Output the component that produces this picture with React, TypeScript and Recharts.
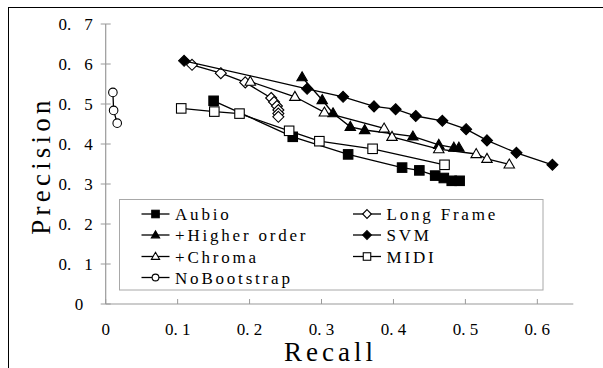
import React from 'react';
import { ScatterChart, Scatter, XAxis, YAxis, Legend, Label } from 'recharts';

// ---- data ----
const aubioRecall = [0.150, 0.260, 0.337, 0.412, 0.436, 0.458, 0.470, 0.481, 0.492];
const aubioPrecision = [0.508, 0.418, 0.374, 0.341, 0.334, 0.321, 0.315, 0.308, 0.308];

const longFrameRecall = [0.120, 0.160, 0.194, 0.230, 0.234, 0.238, 0.240, 0.240, 0.240];
const longFramePrecision = [0.598, 0.577, 0.554, 0.515, 0.505, 0.495, 0.485, 0.476, 0.468];

const higherRecall = [0.273, 0.301, 0.316, 0.340, 0.360, 0.427, 0.463, 0.484, 0.491];
const higherPrecision = [0.567, 0.510, 0.477, 0.443, 0.435, 0.419, 0.398, 0.391, 0.391];

const svmRecall = [0.109, 0.280, 0.330, 0.373, 0.403, 0.431, 0.468, 0.501, 0.530, 0.571, 0.621];
const svmPrecision = [0.608, 0.538, 0.518, 0.494, 0.487, 0.470, 0.458, 0.437, 0.409, 0.378, 0.348];

const chromaRecall = [0.201, 0.263, 0.304, 0.387, 0.398, 0.463, 0.515, 0.530, 0.561];
const chromaPrecision = [0.556, 0.518, 0.479, 0.439, 0.418, 0.387, 0.375, 0.363, 0.349];

const midiRecall = [0.105, 0.151, 0.186, 0.255, 0.297, 0.371, 0.471];
const midiPrecision = [0.489, 0.481, 0.476, 0.433, 0.407, 0.388, 0.348];

const noBootRecall = [0.010, 0.011, 0.016];
const noBootPrecision = [0.529, 0.484, 0.452];

const xTicks = [0, 0.1, 0.2, 0.3, 0.4, 0.5, 0.6];
const yTicks = [0, 0.1, 0.2, 0.3, 0.4, 0.5, 0.6, 0.7];

const zip = (xs: number[], ys: number[]) => xs.map((x, i) => ({ x, y: ys[i] }));

type Kind = 'square' | 'diamond' | 'triangle' | 'circle';
interface SeriesDef { name: string; data: { x: number; y: number }[]; kind: Kind; filled: boolean; }

const series: SeriesDef[] = [
  { name: 'Aubio', data: zip(aubioRecall, aubioPrecision), kind: 'square', filled: true },
  { name: 'Long Frame', data: zip(longFrameRecall, longFramePrecision), kind: 'diamond', filled: false },
  { name: '+Higher order', data: zip(higherRecall, higherPrecision), kind: 'triangle', filled: true },
  { name: 'SVM', data: zip(svmRecall, svmPrecision), kind: 'diamond', filled: true },
  { name: '+Chroma', data: zip(chromaRecall, chromaPrecision), kind: 'triangle', filled: false },
  { name: 'MIDI', data: zip(midiRecall, midiPrecision), kind: 'square', filled: false },
  { name: 'NoBootstrap', data: zip(noBootRecall, noBootPrecision), kind: 'circle', filled: false },
];

const legendCol1 = ['Aubio', '+Higher order', '+Chroma', 'NoBootstrap'];
const legendCol2 = ['Long Frame', 'SVM', 'MIDI'];

const SERIF = '"Liberation Serif", "DejaVu Serif", serif';
const AXIS_GRAY = '#9a9a9a';

function marker(cx: number, cy: number, kind: Kind, filled: boolean, s: number, key?: string) {
  const fill = filled ? '#000' : '#fff';
  const common = { fill, stroke: '#000', strokeWidth: 1.1 };
  if (kind === 'square') {
    return <rect key={key} x={cx - s / 2} y={cy - s / 2} width={s} height={s} {...common} />;
  }
  if (kind === 'diamond') {
    const r = s * 0.58;
    return <polygon key={key} points={`${cx},${cy - r} ${cx + r},${cy} ${cx},${cy + r} ${cx - r},${cy}`} {...common} />;
  }
  if (kind === 'triangle') {
    const h = s * 0.95;
    return <polygon key={key} points={`${cx},${cy - h * 0.6} ${cx + s * 0.55},${cy + h * 0.4} ${cx - s * 0.55},${cy + h * 0.4}`} {...common} />;
  }
  return <circle key={key} cx={cx} cy={cy} r={s * 0.45} {...common} />;
}

const XTick = (props: any) => {
  const { x, y, payload } = props;
  const v: number = payload.value;
  const label = v === 0 ? '0' : v.toFixed(1).replace('.', '. ');
  return (
    <g>
      <line x1={x} x2={x} y1={y} y2={y - 5} stroke={AXIS_GRAY} strokeWidth={1} />
      <text x={x} y={y + 30.5} textAnchor="middle" fontFamily={SERIF} fontSize={17} fill="#000" style={{ whiteSpace: 'pre' }}>
        {label}
      </text>
    </g>
  );
};

const YTick = (props: any) => {
  const { x, y, payload } = props;
  const v: number = payload.value;
  const digit = v === 0 ? '0' : v.toFixed(1).split('.')[1];
  return (
    <g>
      <line x1={x - 5} x2={x + 5} y1={y} y2={y} stroke={AXIS_GRAY} strokeWidth={1} />
      {v === 0 ? (
        <text x={x - 22.5} y={y + 6} textAnchor="end" fontFamily={SERIF} fontSize={17} fill="#000">0</text>
      ) : (
        <>
          <text x={x - 34.5} y={y + 6} textAnchor="end" fontFamily={SERIF} fontSize={17} fill="#000">0.</text>
          <text x={x - 13} y={y + 6} textAnchor="end" fontFamily={SERIF} fontSize={17} fill="#000">{digit}</text>
        </>
      )}
    </g>
  );
};

const XLabel = (props: any) => {
  const vb = props.viewBox || { x: 0, y: 0, width: 0, height: 0 };
  return (
    <text x={vb.x + vb.width / 2 - 9} y={vb.y + 57} textAnchor="middle" fontFamily={SERIF} fontSize={27} letterSpacing={4} fill="#000">
      Recall
    </text>
  );
};

const YLabel = (props: any) => {
  const vb = props.viewBox || { x: 0, y: 0, width: 0, height: 0 };
  const tx = vb.x + vb.width - 55.5;
  const ty = vb.y + vb.height / 2 + 1.5;
  return (
    <text x={tx} y={ty} transform={`rotate(-90, ${tx}, ${ty})`} textAnchor="middle" fontFamily={SERIF} fontSize={27} letterSpacing={4.2} fill="#000">
      Precision
    </text>
  );
};

const LegendBox = () => {
  const byName = (n: string) => series.find((s) => s.name === n)!;
  const baselines = [21, 42, 63.5, 84.5];
  const item = (name: string, i: number, iconX: number, textX: number) => {
    const s = byName(name);
    const cy = baselines[i] - 6;
    return (
      <g key={name}>
        <line x1={iconX} x2={iconX + 28} y1={cy} y2={cy} stroke="#000" strokeWidth={1.3} />
        {marker(iconX + 14, cy, s.kind, s.filled, 7.5)}
        <text x={textX} y={baselines[i]} fontFamily={SERIF} fontSize={17} letterSpacing={2.8} fill="#000">
          {name}
        </text>
      </g>
    );
  };
  return (
    <svg width={425} height={92} style={{ display: 'block' }}>
      <rect x={0.5} y={0.5} width={423.5} height={90.5} fill="#fff" stroke="#a8a8a8" strokeWidth={1} />
      {legendCol1.map((n, i) => item(n, i, 22.5, 56))}
      {legendCol2.map((n, i) => item(n, i, 234, 267.5))}
    </svg>
  );
};

export default function App() {
  return (
    <div style={{ position: 'absolute', left: 0, top: 0, width: 603, height: 368, overflow: 'hidden', background: '#fff' }}>
      <div style={{ position: 'absolute', left: 8, top: 7, width: 700, height: 500, borderLeft: '1.5px solid #000', borderTop: '1.5px solid #000' }} />
      <div style={{ position: 'absolute', left: 0, top: 0 }}>
        <ScatterChart width={603} height={368} margin={{ top: 24, right: 29.7, bottom: 24, left: 45.7 }}>
          <XAxis
            type="number"
            dataKey="x"
            domain={[0, 0.65]}
            ticks={xTicks}
            interval={0}
            allowDataOverflow
            height={40}
            tickSize={0}
            tickMargin={0}
            tickLine={false}
            axisLine={{ stroke: AXIS_GRAY, strokeWidth: 1.2 }}
            tick={<XTick />}
          >
            <Label content={<XLabel />} />
          </XAxis>
          <YAxis
            type="number"
            dataKey="y"
            domain={[0, 0.7]}
            ticks={yTicks}
            interval={0}
            allowDataOverflow
            width={60}
            tickSize={0}
            tickMargin={0}
            tickLine={false}
            axisLine={{ stroke: AXIS_GRAY, strokeWidth: 1.2 }}
            tick={<YTick />}
          >
            <Label content={<YLabel />} />
          </YAxis>
          {series.map((s) => (
            <Scatter
              key={s.name}
              name={s.name}
              data={s.data}
              isAnimationActive={false}
              line={{ stroke: '#000', strokeWidth: 1.3 }}
              lineType="joint"
              shape={(p: any) => marker(p.cx, p.cy, s.kind, s.filled, 9.5)}
            />
          ))}
          <Legend
            layout="horizontal"
            verticalAlign="middle"
            align="center"
            wrapperStyle={{ left: 119, top: 199, width: 425, height: 92 }}
            content={() => <LegendBox />}
          />
        </ScatterChart>
      </div>
    </div>
  );
}
